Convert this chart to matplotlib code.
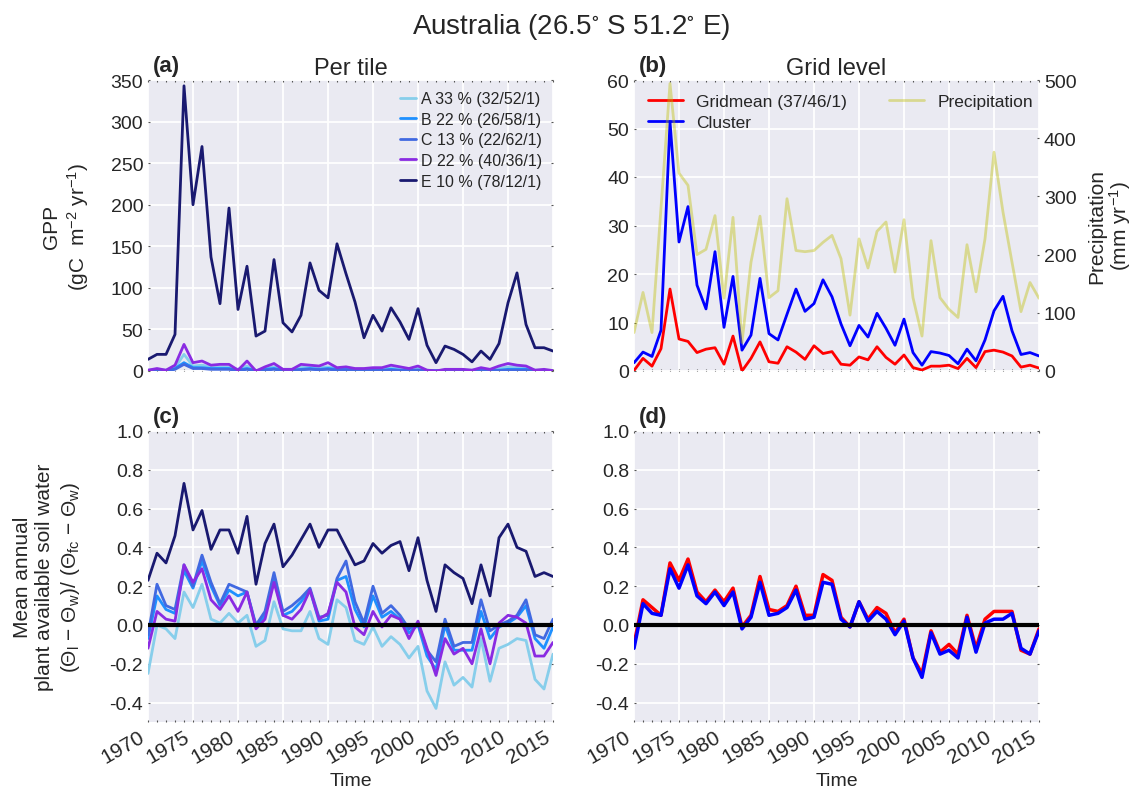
import numpy as np
import matplotlib
matplotlib.use('Agg')
import matplotlib.pyplot as plt
from matplotlib.ticker import MultipleLocator

# Data
years = np.arange(1970, 2016)

# (a) GPP per tile (gC m-2 yr-1)
gpp_A = [1, 2, 1, 4, 20, 6, 7, 5, 5, 5,
         2, 6, 0.5, 3, 5, 2, 2, 5, 5, 4,
         5, 3, 3, 2, 2, 3, 3, 4, 3, 2,
         3, 1, 0.5, 1, 1, 1, 1, 2, 1, 3,
         5, 5, 4, 1, 1, 0.5]
gpp_B = [0.5, 1, 0.5, 3, 10, 4, 4, 3, 3, 3,
         1, 3, 0.3, 2, 3, 1, 1, 2, 3, 2,
         3, 2, 2, 1, 1, 1, 1, 2, 1, 1,
         1, 0.5, 0.3, 0.5, 0.5, 0.5, 0.5, 1, 0.5, 1,
         2, 2, 2, 0.5, 0.5, 0.3]
gpp_C = [0.3, 0.8, 0.3, 2, 8, 3, 3, 2, 2, 2,
         0.5, 2, 0.2, 1, 2, 0.5, 0.5, 1.5, 2, 1.5,
         2, 1, 1, 0.5, 0.5, 1, 0.5, 1, 0.5, 0.5,
         1, 0.3, 0.2, 0.3, 0.3, 0.3, 0.3, 0.5, 0.3, 0.5,
         1, 1, 1, 0.3, 0.3, 0.2]
gpp_D = [1, 3, 1, 7, 32, 10, 12, 7, 8, 8,
         1, 12, 0, 5, 9, 2, 2, 8, 7, 6,
         10, 4, 5, 3, 3, 4, 4, 7, 5, 3,
         6, 1, 0, 2, 2, 2, 1, 4, 2, 6,
         9, 7, 6, 1, 2, 0.5]
gpp_E = [14, 20, 20, 44, 343, 200, 270, 137, 81, 196,
         74, 126, 42, 48, 134, 58, 47, 67, 130, 97,
         88, 153, 117, 83, 40, 67, 48, 76, 59, 38,
         75, 31, 10, 30, 26, 20, 11, 24, 14, 33,
         82, 118, 56, 28, 28, 24]

# (b) grid level GPP and precipitation
gpp_gridmean = [0.1, 2.6, 1.0, 4.6, 16.9, 6.6, 6.1, 3.8, 4.5, 4.8,
                1.4, 7.2, 0.0, 2.6, 6.0, 1.9, 1.6, 5.0, 3.9, 2.4,
                5.2, 3.6, 4.0, 1.4, 1.2, 2.9, 2.3, 5.0, 2.8, 1.4,
                3.3, 0.7, 0.2, 1.0, 1.0, 1.2, 0.5, 2.6, 0.7, 4.0,
                4.3, 3.9, 3.1, 0.8, 1.2, 0.6]
gpp_cluster = [1.7, 3.9, 3.0, 8.4, 51.4, 26.6, 33.9, 17.7, 12.8, 24.6,
               9.0, 19.5, 4.3, 7.4, 19.1, 7.7, 6.4, 11.7, 16.9, 12.3,
               13.9, 18.8, 15.3, 9.7, 5.2, 9.4, 7.0, 11.9, 8.8, 5.3,
               10.7, 3.8, 1.2, 4.0, 3.7, 3.2, 1.5, 4.5, 2.1, 6.4,
               12.4, 15.4, 8.3, 3.4, 3.8, 3.1]
precip = [66, 135, 66, 280, 494, 340, 319, 200, 209, 267,
          125, 264, 49, 187, 266, 126, 138, 296, 207, 205,
          207, 221, 233, 193, 96, 227, 177, 240, 256, 170,
          260, 126, 60, 224, 126, 106, 92, 217, 136, 227,
          376, 273, 187, 102, 152, 125]

# (c) soil water per tile
sw_A = [-0.25, 0.0, -0.02, -0.07, 0.17, 0.09, 0.21, 0.03, 0.01, 0.06,
        0.01, 0.05, -0.11, -0.08, 0.12, -0.02, -0.03, -0.03, 0.07, -0.07,
        -0.10, 0.13, 0.09, -0.08, -0.10, -0.01, -0.11, -0.06, -0.10, -0.17,
        -0.11, -0.34, -0.43, -0.19, -0.31, -0.27, -0.32, -0.07, -0.29, -0.12,
        -0.10, -0.07, -0.08, -0.28, -0.33, -0.15]
sw_B = [-0.07, 0.15, 0.08, 0.06, 0.28, 0.19, 0.33, 0.20, 0.10, 0.18,
        0.15, 0.17, -0.01, 0.05, 0.24, 0.05, 0.07, 0.12, 0.18, 0.02,
        0.03, 0.23, 0.25, 0.08, -0.01, 0.15, 0.04, 0.07, 0.03, -0.04,
        0.0, -0.16, -0.23, 0.0, -0.13, -0.13, -0.13, 0.07, -0.07, -0.01,
        0.01, 0.04, 0.10, -0.07, -0.12, -0.01]
sw_C = [-0.05, 0.21, 0.10, 0.08, 0.31, 0.20, 0.36, 0.22, 0.11, 0.21,
        0.19, 0.17, 0.0, 0.07, 0.27, 0.07, 0.10, 0.14, 0.19, 0.04,
        0.05, 0.24, 0.33, 0.12, 0.01, 0.20, 0.06, 0.10, 0.05, -0.02,
        0.01, -0.13, -0.19, 0.03, -0.11, -0.09, -0.09, 0.13, -0.03, 0.0,
        0.02, 0.05, 0.13, -0.05, -0.07, 0.03]
sw_D = [-0.12, 0.07, 0.03, 0.02, 0.31, 0.22, 0.29, 0.13, 0.08, 0.15,
        0.07, 0.17, -0.02, 0.03, 0.22, 0.05, 0.03, 0.08, 0.18, 0.03,
        0.06, 0.22, 0.17, -0.01, -0.05, 0.07, -0.01, 0.05, 0.03, -0.07,
        0.02, -0.12, -0.26, -0.07, -0.15, -0.12, -0.20, -0.02, -0.20, 0.01,
        0.05, 0.04, 0.01, -0.16, -0.16, -0.09]
sw_E = [0.23, 0.37, 0.32, 0.46, 0.73, 0.49, 0.59, 0.39, 0.49, 0.49,
        0.37, 0.56, 0.21, 0.42, 0.52, 0.30, 0.36, 0.44, 0.52, 0.40,
        0.49, 0.49, 0.40, 0.31, 0.33, 0.42, 0.37, 0.41, 0.43, 0.28,
        0.45, 0.23, 0.07, 0.31, 0.27, 0.24, 0.11, 0.31, 0.15, 0.45,
        0.52, 0.40, 0.38, 0.25, 0.27, 0.25]

# (d) soil water grid level
sw_gridmean = [-0.10, 0.13, 0.09, 0.05, 0.32, 0.23, 0.34, 0.17, 0.12, 0.18,
               0.12, 0.19, -0.01, 0.05, 0.25, 0.08, 0.07, 0.10, 0.20, 0.05,
               0.05, 0.26, 0.23, 0.04, -0.01, 0.12, 0.03, 0.09, 0.06, -0.04,
               0.03, -0.17, -0.25, -0.03, -0.14, -0.10, -0.15, 0.05, -0.12, 0.03,
               0.07, 0.07, 0.07, -0.13, -0.15, -0.02]
sw_cluster = [-0.12, 0.11, 0.06, 0.05, 0.29, 0.19, 0.31, 0.15, 0.11, 0.17,
              0.10, 0.17, -0.02, 0.04, 0.22, 0.05, 0.06, 0.09, 0.18, 0.03,
              0.04, 0.22, 0.21, 0.03, -0.01, 0.12, 0.02, 0.07, 0.03, -0.05,
              0.02, -0.17, -0.27, -0.04, -0.15, -0.13, -0.17, 0.04, -0.14, 0.01,
              0.03, 0.03, 0.06, -0.12, -0.15, -0.03]

tile_labels = ['A 33 % (32/52/1)', 'B 22 % (26/58/1)', 'C 13 % (22/62/1)',
               'D 22 % (40/36/1)', 'E 10 % (78/12/1)']
tile_colors = ['skyblue', 'dodgerblue', 'royalblue', 'blueviolet', 'midnightblue']

plt.style.use('seaborn-v0_8-darkgrid')
plt.rcParams['font.family'] = ['Liberation Sans', 'DejaVu Sans']
plt.rcParams['mathtext.fontset'] = 'custom'
plt.rcParams['mathtext.rm'] = 'Liberation Sans'
plt.rcParams['mathtext.default'] = 'regular'
txt_color = '#262626'
tick_color = '#555555'

fig = plt.figure(figsize=(11.42, 8.03), dpi=100)
W, H = 1142.0, 803.0
def place(l, t, r, b):
    return fig.add_axes([l / W, 1 - b / H, (r - l) / W, (b - t) / H])

ax_a = place(148, 81, 553, 372)
ax_b = place(634, 81, 1039, 372)
ax_c = place(148, 432, 553, 723)
ax_d = place(634, 432, 1039, 723)

def style(ax, right=True):
    ax.set_xlim(1970, 2015)
    ax.set_xticks(range(1970, 2016, 5))
    ax.xaxis.set_minor_locator(MultipleLocator(1))
    ax.grid(True, which='major', color='white', lw=1.3)
    ax.tick_params(which='both', direction='in', top=True, right=right,
                   length=1.5, width=0.8, color=tick_color, labelsize=14,
                   labelcolor=txt_color)
    for s in ax.spines.values():
        s.set_visible(False)

# (a)
gpp_tiles = [gpp_A, gpp_B, gpp_C, gpp_D, gpp_E]
for vals, lab, col in zip(gpp_tiles, tile_labels, tile_colors):
    ax_a.plot(years, vals, color=col, lw=2, label=lab)
style(ax_a)
ax_a.set_ylim(0, 350)
ax_a.set_yticks(range(0, 351, 50))
ax_a.set_xticklabels([])
ax_a.set_ylabel('GPP\n(gC  m$^{-2}$ yr$^{-1}$)', fontsize=15, color=txt_color, labelpad=14)
ax_a.legend(loc='upper right', fontsize=11.5, frameon=False, handlelength=1.0,
            handletextpad=0.3, labelspacing=0.35, borderaxespad=0.3)

# (b)
l1, = ax_b.plot(years, gpp_gridmean, color='red', lw=2, label='Gridmean (37/46/1)')
l2, = ax_b.plot(years, gpp_cluster, color='blue', lw=2, label='Cluster')
style(ax_b, right=False)
ax_b.set_ylim(0, 60)
ax_b.set_yticks(range(0, 61, 10))
ax_b.set_xticklabels([])
ax_p = ax_b.twinx()
l3, = ax_p.plot(years, precip, color='y', alpha=0.4, lw=2, label='Precipitation')
ax_p.set_ylim(0, 500)
ax_p.set_yticks(range(0, 501, 100))
ax_p.grid(False)
ax_p.tick_params(direction='in', right=True, length=1.5, width=0.8, color=tick_color,
                 labelsize=14, labelcolor=txt_color)
for s in ax_p.spines.values():
    s.set_visible(False)
ax_p.set_ylabel('Precipitation\n(mm yr$^{-1}$)', fontsize=15, color=txt_color,
                labelpad=8, linespacing=1.0)
ax_b.legend(handles=[l1, l2, l3], loc='upper left', ncol=2, fontsize=12.5,
            frameon=False, handlelength=2.0, columnspacing=2.4,
            labelspacing=0.35, borderaxespad=0.4)

# (c)
sw_tiles = [sw_A, sw_B, sw_C, sw_D, sw_E]
for vals, col in zip(sw_tiles, tile_colors):
    ax_c.plot(years, vals, color=col, lw=2)
ax_c.axhline(0, color='black', lw=3)
style(ax_c)
ax_c.set_ylim(-0.5, 1.0)
ax_c.set_yticks(np.arange(-0.4, 1.01, 0.2))
ax_c.set_ylabel('Mean annual\nplant available soil water\n'
                r'($\Theta_{l}$ $-$ $\Theta_{w}$)/ ($\Theta_{fc}$ $-$ $\Theta_{w}$)',
                fontsize=15, color=txt_color, labelpad=20, linespacing=1.25)

# (d)
ax_d.plot(years, sw_gridmean, color='red', lw=2.5)
ax_d.plot(years, sw_cluster, color='blue', lw=2.5)
ax_d.axhline(0, color='black', lw=3)
style(ax_d)
ax_d.set_ylim(-0.5, 1.0)
ax_d.set_yticks(np.arange(-0.4, 1.01, 0.2))

for ax in (ax_c, ax_d):
    ax.set_yticklabels(['%.1f' % v if abs(v) > 1e-9 else '0.0' for v in ax.get_yticks()])
    for lab in ax.get_xticklabels():
        lab.set_rotation(30)
        lab.set_ha('right')
        lab.set_fontsize(15)
    ax.set_xlabel('Time', fontsize=14, color=txt_color, labelpad=4)

# panel letters and titles
for ax, letter in zip((ax_a, ax_b, ax_c, ax_d), ['(a)', '(b)', '(c)', '(d)']):
    ax.text(0.012, 1.015, letter, transform=ax.transAxes, fontsize=16,
            fontweight='bold', color=txt_color, va='bottom', ha='left')
ax_a.set_title('Per tile', fontsize=17, color=txt_color, pad=4)
ax_b.set_title('Grid level', fontsize=17, color=txt_color, pad=4)

fig.suptitle(r'Australia (26.5$^{\circ}$ S 51.2$^{\circ}$ E)', fontsize=20,
             color=txt_color, x=0.5, y=0.985, va='top')

fig.savefig('out.png', dpi=100)
